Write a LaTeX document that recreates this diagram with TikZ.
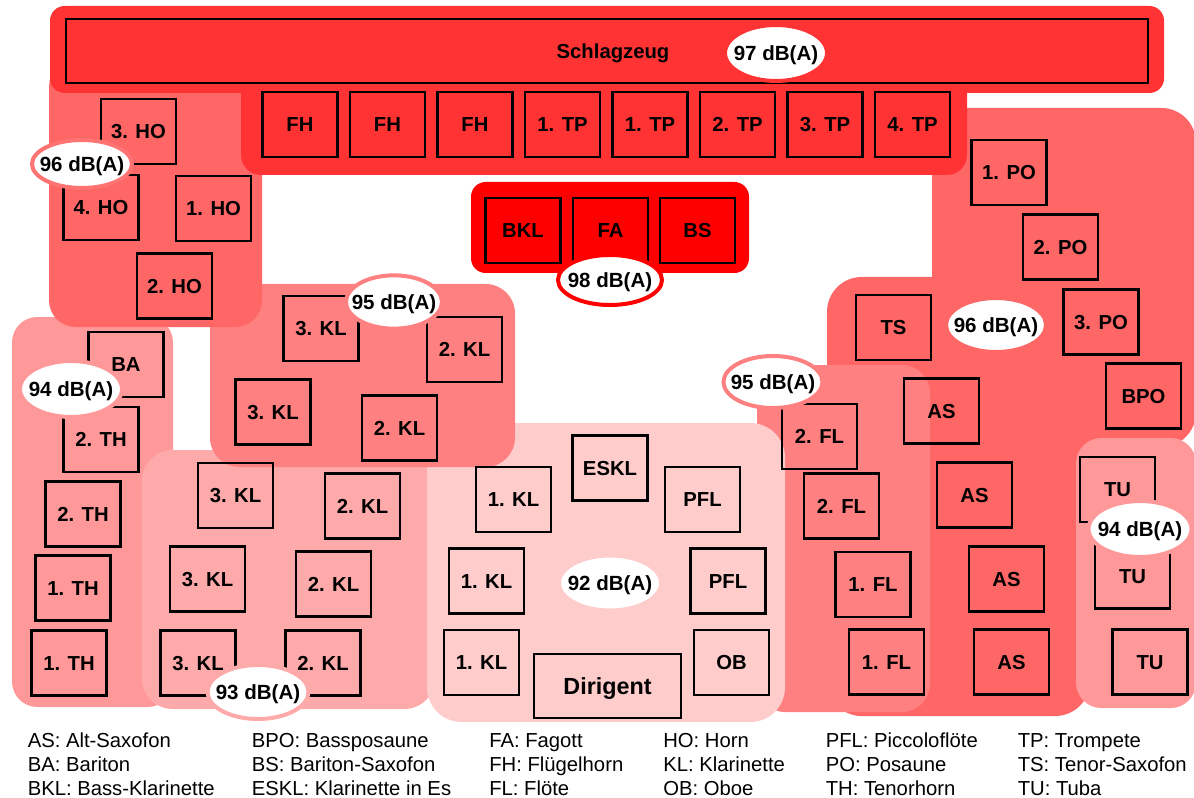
\documentclass[tikz,border=0pt]{standalone}
\usepackage{fontspec}
\setmainfont{Liberation Sans}
\usetikzlibrary{shapes.geometric}
\definecolor{cS}{HTML}{FF3333}
\definecolor{cR}{HTML}{FF0000}
\definecolor{c66}{HTML}{FF6666}
\definecolor{c70}{HTML}{FF7373}
\definecolor{c80}{HTML}{FF8080}
\definecolor{c99}{HTML}{FF9999}
\definecolor{cAA}{HTML}{FFAAAA}
\definecolor{cCC}{HTML}{FFCCCC}
\newcommand{\dbtxt}[1]{\makebox[0pt]{#1 dB(A)}}
\tikzset{
  inst/.style={draw=black, line width=2pt, minimum width=56.25pt, minimum height=48.75pt,
    inner sep=0pt, text height=10.9pt, text depth=0pt,
    font=\fontsize{15.2pt}{18pt}\selectfont\bfseries},
  db/.style={ellipse, fill=white, line width=3pt, inner sep=0pt,
    text height=11pt, text depth=0pt,
    font=\fontsize{15.4pt}{18pt}\selectfont\bfseries},
  leg/.style={anchor=west, inner sep=0pt, text height=10.9pt, text depth=0pt,
    font=\fontsize{15.2pt}{18pt}\selectfont},
}
\begin{document}
\begin{tikzpicture}[x=0.75pt,y=-0.75pt]
\useasboundingbox (0,0) rectangle (1194,798);
% ---------- groups (back to front) ----------
\fill[c66, rounded corners=26pt] (827,277) rectangle (1090,716);
\fill[c66, rounded corners=26pt] (932,108) rectangle (1196,447);
\fill[c99, rounded corners=19pt] (1076,438) rectangle (1196,708);
\fill[c80, rounded corners=21pt] (757,365) rectangle (930,712);
\fill[c99, rounded corners=19pt] (12,317) rectangle (173,707);
\fill[cAA, rounded corners=23pt] (142,450) rectangle (435,709);
\fill[cCC, rounded corners=26pt] (427,423) rectangle (785,722);
\fill[c80, rounded corners=22pt] (210,284) rectangle (515,467);
\fill[c66, rounded corners=20pt] (49,60) rectangle (262,327);
\fill[cS, rounded corners=11pt] (50,6) rectangle (1164,93);
\fill[cS, rounded corners=15pt] (241,50) rectangle (967,175);
\fill[cR, rounded corners=11pt] (471,182) rectangle (749,273);
% ---------- Schlagzeug ----------
\node[inst, minimum width=811.5pt, minimum height=48pt] (sz) at (607,51) {\hspace*{9pt}Schlagzeug};
\node[inst] (fh1) at (300,124.5) {FH};
\node[inst] (fh2) at (387.5,124.5) {FH};
\node[inst] (fh3) at (475,124.5) {FH};
\node[inst] (tp1a) at (562.5,124.5) {1. TP};
\node[inst] (tp1b) at (650,124.5) {1. TP};
\node[inst] (tp2) at (737.5,124.5) {2. TP};
\node[inst] (tp3) at (825,124.5) {3. TP};
\node[inst] (tp4) at (912.5,124.5) {4. TP};
% ---------- Horns ----------
\node[inst] (ho3) at (138.5,131.5) {3. HO};
\node[inst] (ho4) at (101,207.5) {4. HO};
\node[inst] (ho1) at (213.5,208.5) {1. HO};
\node[inst] (ho2) at (174.5,286) {2. HO};
% ---------- BKL group ----------
\node[inst] (bkl) at (523,230.5) {BKL};
\node[inst] (fa) at (610.5,230.5) {FA};
\node[inst] (bs) at (697.5,230.5) {BS};
% ---------- Clarinets 95 ----------
\node[inst] (klA1) at (321,328.5) {3. KL};
\node[inst] (klA2) at (464.5,349.5) {2. KL};
\node[inst] (klA3) at (273,412) {3. KL};
\node[inst] (klA4) at (399.5,428) {2. KL};
% ---------- Tenor horns ----------
\node[inst] (ba) at (126,364.5) {BA};
\node[inst] (th2a) at (101,439.5) {2. TH};
\node[inst] (th2b) at (83,514) {2. TH};
\node[inst] (th1a) at (73,588) {1. TH};
\node[inst] (th1b) at (69,663) {1. TH};
% ---------- Clarinets 93 ----------
\node[inst] (klB1) at (235.5,495.5) {3. KL};
\node[inst] (klB2) at (362.5,506) {2. KL};
\node[inst] (klB3) at (207.5,579) {3. KL};
\node[inst] (klB4) at (333.5,584) {2. KL};
\node[inst] (klB5) at (198,663) {3. KL};
\node[inst] (klB6) at (323,663) {2. KL};
% ---------- Center 92 ----------
\node[inst] (eskl) at (610,468) {ESKL};
\node[inst] (klC1) at (513.5,499.5) {1. KL};
\node[inst] (pfl1) at (702.5,499.5) {PFL};
\node[inst] (klC2) at (486.5,581) {1. KL};
\node[inst] (pfl2) at (728,581) {PFL};
\node[inst] (klC3) at (481.5,662.5) {1. KL};
\node[inst] (ob) at (731.5,662.5) {OB};
\node[inst, minimum width=110.25pt, minimum height=48pt, text height=12.5pt, font=\fontsize{17.5pt}{20pt}\selectfont\bfseries] (dir) at (607.5,686) {Dirigent};
% ---------- Flutes ----------
\node[inst] (fl2a) at (819.5,436.5) {2. FL};
\node[inst] (fl2b) at (841.5,506) {2. FL};
\node[inst] (fl1a) at (873,584.5) {1. FL};
\node[inst] (fl1b) at (886.5,662) {1. FL};
% ---------- Trombones / Saxes ----------
\node[inst] (po1) at (1009,172.5) {1. PO};
\node[inst] (po2) at (1060.5,247) {2. PO};
\node[inst] (po3) at (1101,322) {3. PO};
\node[inst] (ts) at (893.5,327.5) {TS};
\node[inst] (bpo) at (1143.5,396) {BPO};
\node[inst] (as1) at (941.5,411) {AS};
\node[inst] (as2) at (974.5,495) {AS};
\node[inst] (as3) at (1006.5,579) {AS};
\node[inst] (as4) at (1011.5,662) {AS};
% ---------- Tubas ----------
\node[inst] (tu1) at (1117.5,489.5) {TU};
\node[inst] (tu2) at (1132.5,576) {TU};
\node[inst] (tu3) at (1150,662) {TU};
% ---------- dB labels ----------
\node[db, draw=cS, minimum width=76.5pt, minimum height=42pt] (db97) at (776,53) {\dbtxt{97}};
\node[db, draw=c70, minimum width=75pt, minimum height=36pt] (db96l) at (82,164) {\dbtxt{96}};
\node[db, draw=cR, minimum width=78pt, minimum height=37.5pt] (db98) at (610,280) {\dbtxt{98}};
\node[db, draw=c80, minimum width=72pt, minimum height=40pt] (db95l) at (394,302) {\dbtxt{95}};
\node[db, draw=c99, minimum width=76.5pt, minimum height=42pt] (db94l) at (71,389) {\dbtxt{94}};
\node[db, draw=cAA, minimum width=75.75pt, minimum height=40.5pt] (db93) at (258,692) {\dbtxt{93}};
\node[db, draw=cCC, minimum width=76.5pt, minimum height=41.25pt] (db92) at (610,583) {\dbtxt{92}};
\node[db, draw=c80, minimum width=74.25pt, minimum height=39pt] (db95r) at (773,382) {\dbtxt{95}};
\node[db, draw=c66, minimum width=75pt, minimum height=40.5pt] (db96r) at (996,325) {\dbtxt{96}};
\node[db, draw=c99, minimum width=77.25pt, minimum height=42pt] (db94r) at (1140,529) {\dbtxt{94}};
% ---------- legend ----------
\node[leg] (l11) at (27.5,740) {AS: Alt-Saxofon};
\node[leg] (l12) at (27.5,764) {BA: Bariton};
\node[leg] (l13) at (27.5,788) {BKL: Bass-Klarinette};
\node[leg] (l21) at (251.5,740) {BPO: Bassposaune};
\node[leg] (l22) at (251.5,764) {BS: Bariton-Saxofon};
\node[leg] (l23) at (251.5,788) {ESKL: Klarinette in Es};
\node[leg] (l31) at (489,740) {FA: Fagott};
\node[leg] (l32) at (489,764) {FH: Flügelhorn};
\node[leg] (l33) at (489,788) {FL: Flöte};
\node[leg] (l41) at (663,740) {HO: Horn};
\node[leg] (l42) at (663,764) {KL: Klarinette};
\node[leg] (l43) at (663,788) {OB: Oboe};
\node[leg] (l51) at (825.5,740) {PFL: Piccoloflöte};
\node[leg] (l52) at (825.5,764) {PO: Posaune};
\node[leg] (l53) at (825.5,788) {TH: Tenorhorn};
\node[leg] (l61) at (1017.5,740) {TP: Trompete};
\node[leg] (l62) at (1017.5,764) {TS: Tenor-Saxofon};
\node[leg] (l63) at (1017.5,788) {TU: Tuba};
\end{tikzpicture}
\end{document}
